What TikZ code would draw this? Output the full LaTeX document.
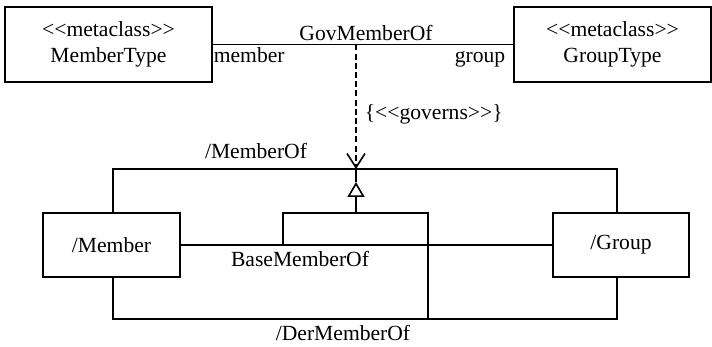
\documentclass[tikz,border=0pt]{standalone}
\usepackage{fontspec}
\setmainfont{Liberation Serif}[Ligatures=TeXOff]
\usetikzlibrary{arrows.meta}
\begin{document}
\begin{tikzpicture}[x=0.5pt,y=-0.5pt,line width=0.8pt,
  font=\fontsize{10.8}{13}\selectfont,
  box/.style={draw,rectangle,inner sep=0pt,align=center},
  lbl/.style={inner sep=0pt,anchor=base},
  gen/.style={-{Triangle[open,length=7.5pt,width=8.5pt]}},
  dep/.style={dash pattern=on 3pt off 1.6pt,-{Straight Barb[length=7pt,width=9pt]}}]
\useasboundingbox (0,0) rectangle (712,347);
% classes
\node[box,minimum width=103.5pt,minimum height=37.5pt] (mt) at (108.5,44.5) {<<metaclass>>\\MemberType};
\node[box,minimum width=98.5pt,minimum height=37.5pt] (gt) at (612.5,44.5) {<<metaclass>>\\GroupType};
\node[box,minimum width=68.5pt,minimum height=32pt] (m) at (111.5,245) {/Member};
\node[box,minimum width=68pt,minimum height=32pt] (g) at (621,245) {/Group};
% coordinates
\coordinate (gov) at (356,44.5);
\coordinate (moL) at (113,169);
\coordinate (moR) at (617,169);
\coordinate (mo) at (356,169);
\coordinate (apex) at (356,182);
\coordinate (gbar) at (356,213);
\coordinate (gL) at (283,213);
\coordinate (gR) at (428,213);
\coordinate (bL) at (283,245);
\coordinate (dR) at (428,319);
\coordinate (dL) at (113,319);
\coordinate (dRR) at (617,319);
% GovMemberOf association
\draw (mt.east) -- (gt.west);
\draw[dep] (gov) -- (mo);
% /MemberOf
\draw (m.north -| moL) -- (moL) -- (moR) -- (g.north -| moR);
\draw (mo) -- (apex);
\draw[gen] (gbar) -- (apex);
\draw (bL) -- (gL) -- (gR) -- (dR);
% BaseMemberOf
\draw (m.east) -- (g.west);
% /DerMemberOf
\draw (m.south -| dL) -- (dL) -- (dRR) -- (g.south -| dRR);
% labels
\node[lbl] (lgov) at (366,41) {GovMemberOf};
\node[lbl,anchor=base west] (lmem) at (213,63) {member};
\node[lbl,anchor=base east] (lgrp) at (506,63) {group};
\node[lbl,anchor=west] (lgvn) at (364,114) {\{<<governs>>\}};
\node[lbl] (lmo) at (256,159) {/MemberOf};
\node[lbl] (lbase) at (300,267) {BaseMemberOf};
\node[lbl] (lder) at (343,340) {/DerMemberOf};
\end{tikzpicture}
\end{document}
